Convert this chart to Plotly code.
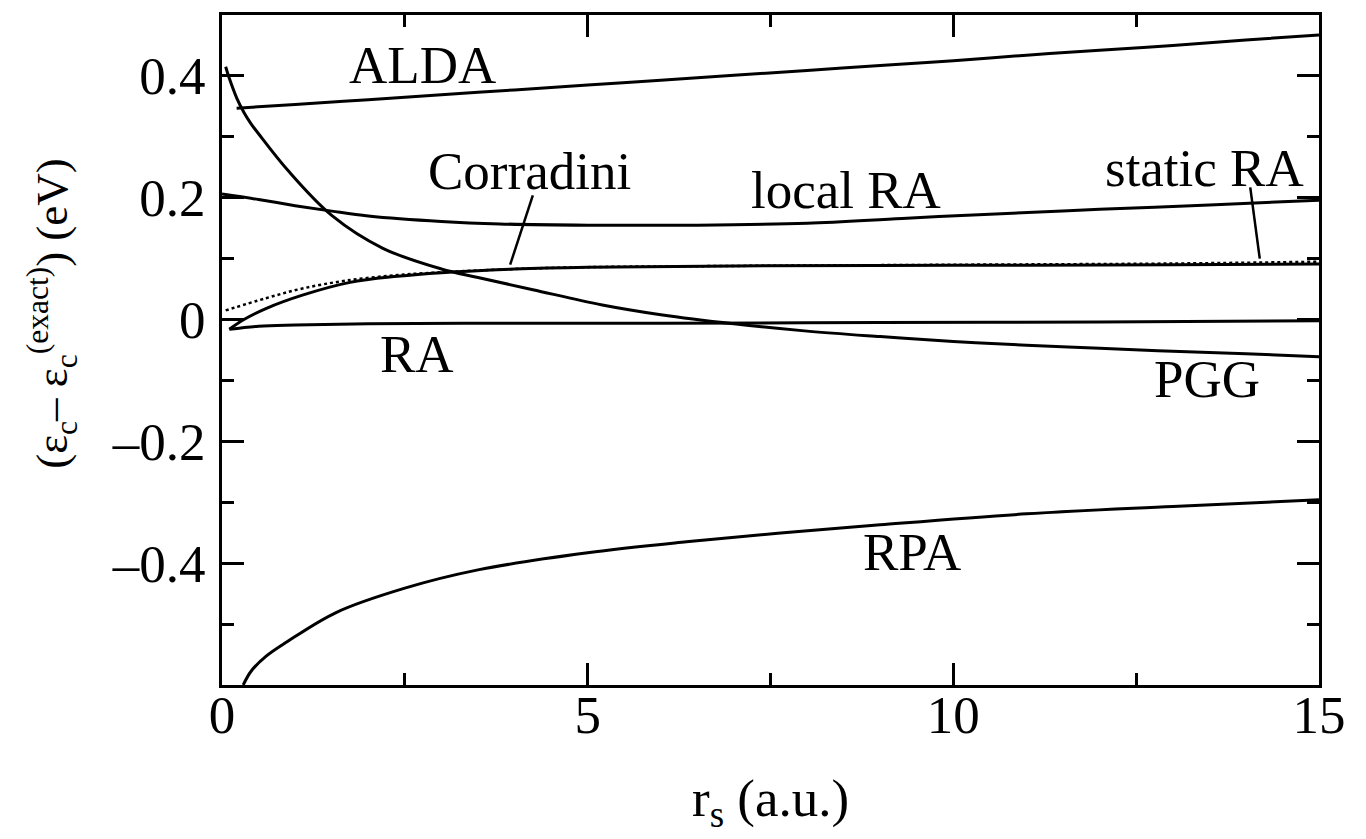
import plotly.graph_objects as go

# ---- data ----
alda_x = [0.2, 1, 2, 3, 4, 5, 6, 7, 8, 9, 10, 11, 12, 13, 14, 15]
alda_y = [0.347, 0.353, 0.361, 0.369, 0.377, 0.385, 0.393, 0.401, 0.409, 0.417, 0.425, 0.434, 0.442, 0.450, 0.459, 0.467]

pgg_x = [0.05, 0.1, 0.2, 0.3, 0.4, 0.5, 0.9, 1.5, 2.2, 3.0, 3.5, 4.25, 5.2, 6, 7, 8, 9, 10, 11, 12, 13, 14, 15]
pgg_y = [0.415, 0.396, 0.364, 0.340, 0.321, 0.305, 0.245, 0.171, 0.117, 0.083, 0.069, 0.049, 0.024, 0.008, -0.007, -0.019, -0.028, -0.036, -0.042, -0.047, -0.052, -0.056, -0.061]

localra_x = [0.0, 0.5, 1, 1.5, 2, 3, 3.8, 5, 6.5, 8, 9.3, 10.5, 12, 13.5, 15]
localra_y = [0.206, 0.197, 0.187, 0.178, 0.170, 0.161, 0.157, 0.155, 0.155, 0.158, 0.166, 0.173, 0.181, 0.188, 0.196]

staticra_x = [0.1, 0.3, 0.6, 1.1, 1.75, 2.4, 3.0, 4, 5, 7, 10, 13, 15]
staticra_y = [-0.016, 0.0, 0.018, 0.040, 0.061, 0.071, 0.077, 0.083, 0.086, 0.088, 0.089, 0.090, 0.091]

corradini_x = [0.05, 0.6, 1.1, 1.7, 2.4, 2.9, 4, 5, 7, 10, 13, 15]
corradini_y = [0.015, 0.035, 0.051, 0.064, 0.073, 0.077, 0.083, 0.086, 0.088, 0.090, 0.092, 0.095]

ra_x = [0.1, 0.5, 1, 2, 4, 6, 9, 12, 15]
ra_y = [-0.016, -0.011, -0.009, -0.007, -0.006, -0.006, -0.005, -0.004, -0.002]

rpa_x = [0.29, 0.4, 0.6, 0.89, 1.56, 2.5, 3.5, 5, 6.35, 7.6, 9, 11, 13, 15]
rpa_y = [-0.600, -0.577, -0.553, -0.529, -0.481, -0.441, -0.411, -0.383, -0.365, -0.351, -0.337, -0.319, -0.307, -0.296]

x_ticks = [0, 5, 10, 15]
x_ticktext = ["0", "5", "10", "15"]
y_ticks = [-0.4, -0.2, 0, 0.2, 0.4]
y_ticktext = ["\u20130.4", "\u20130.2", "0", "0.2", "0.4"]

# labels: (text, x, y)
curve_labels = [
    ("ALDA", 2.74, 0.418),
    ("Corradini", 4.21, 0.244),
    ("local RA", 8.53, 0.213),
    ("static RA", 13.44, 0.249),
    ("RA", 2.67, -0.056),
    ("PGG", 13.47, -0.097),
    ("RPA", 9.44, -0.382),
]
# pointer segments: (x0, y0, x1, y1)
pointers = [
    (4.25, 0.204, 3.94, 0.090),
    (14.06, 0.217, 14.19, 0.100),
]

FONT = "Liberation Serif"
LBL = 53

fig = go.Figure()
solid = dict(color="black", width=3)
fig.add_trace(go.Scatter(x=alda_x, y=alda_y, mode="lines", line=dict(**solid, shape="spline"), name="ALDA"))
fig.add_trace(go.Scatter(x=pgg_x, y=pgg_y, mode="lines", line=dict(**solid, shape="spline"), name="PGG"))
fig.add_trace(go.Scatter(x=localra_x, y=localra_y, mode="lines", line=dict(**solid, shape="spline"), name="local RA"))
fig.add_trace(go.Scatter(x=staticra_x, y=staticra_y, mode="lines", line=dict(**solid, shape="spline"), name="static RA"))
fig.add_trace(go.Scatter(x=corradini_x, y=corradini_y, mode="lines", line=dict(color="black", width=2.5, dash="dot", shape="spline"), name="Corradini"))
fig.add_trace(go.Scatter(x=ra_x, y=ra_y, mode="lines", line=dict(**solid, shape="spline"), name="RA"))
fig.add_trace(go.Scatter(x=rpa_x, y=rpa_y, mode="lines", line=dict(**solid, shape="spline"), name="RPA"))

for txt, lx, ly in curve_labels:
    fig.add_annotation(x=lx, y=ly, xref="x", yref="y", text=txt, showarrow=False,
                       font=dict(family=FONT, size=LBL, color="black"))

for x0, y0, x1, y1 in pointers:
    fig.add_shape(type="line", x0=x0, y0=y0, x1=x1, y1=y1, xref="x", yref="y",
                  line=dict(color="black", width=2.5))

# axis titles
fig.add_annotation(xref="paper", yref="paper", x=0.5, y=0, xanchor="center", yanchor="middle",
                   yshift=-117,
                   text="r<sub>s</sub> (a.u.)", showarrow=False,
                   font=dict(family=FONT, size=LBL, color="black"))
fig.add_annotation(xref="paper", yref="paper", x=0, xshift=-170, y=0.554,
                   xanchor="center", yanchor="middle",
                   text="(\u03b5<sub>c</sub>\u2013 \u03b5<sub>c</sub><sup>(exact)</sup>) (eV)",
                   textangle=-90, showarrow=False,
                   font=dict(family=FONT, size=45, color="black"))

axis_common = dict(showline=True, linecolor="black", linewidth=3, mirror="allticks",
                   ticks="inside", ticklen=22, tickwidth=3, tickcolor="black",
                   showgrid=False, zeroline=False,
                   tickfont=dict(family=FONT, size=LBL, color="black"))

fig.update_xaxes(range=[0, 15], tickmode="array", tickvals=x_ticks, ticktext=x_ticktext,
                 minor=dict(ticks="inside", ticklen=12, tickwidth=2.5, tickcolor="black", dtick=2.5, tick0=0),
                 ticklabelstandoff=-19, **axis_common)
fig.update_yaxes(range=[-0.6, 0.5], tickmode="array", tickvals=y_ticks, ticktext=y_ticktext,
                 minor=dict(ticks="inside", ticklen=12, tickwidth=2.5, tickcolor="black", dtick=0.1, tick0=0),
                 ticklabelstandoff=3, **axis_common)

fig.update_layout(width=1366, height=839, margin=dict(l=222, r=47, t=12, b=154),
                  paper_bgcolor="white", plot_bgcolor="white", showlegend=False)

fig.write_html("out.html")
